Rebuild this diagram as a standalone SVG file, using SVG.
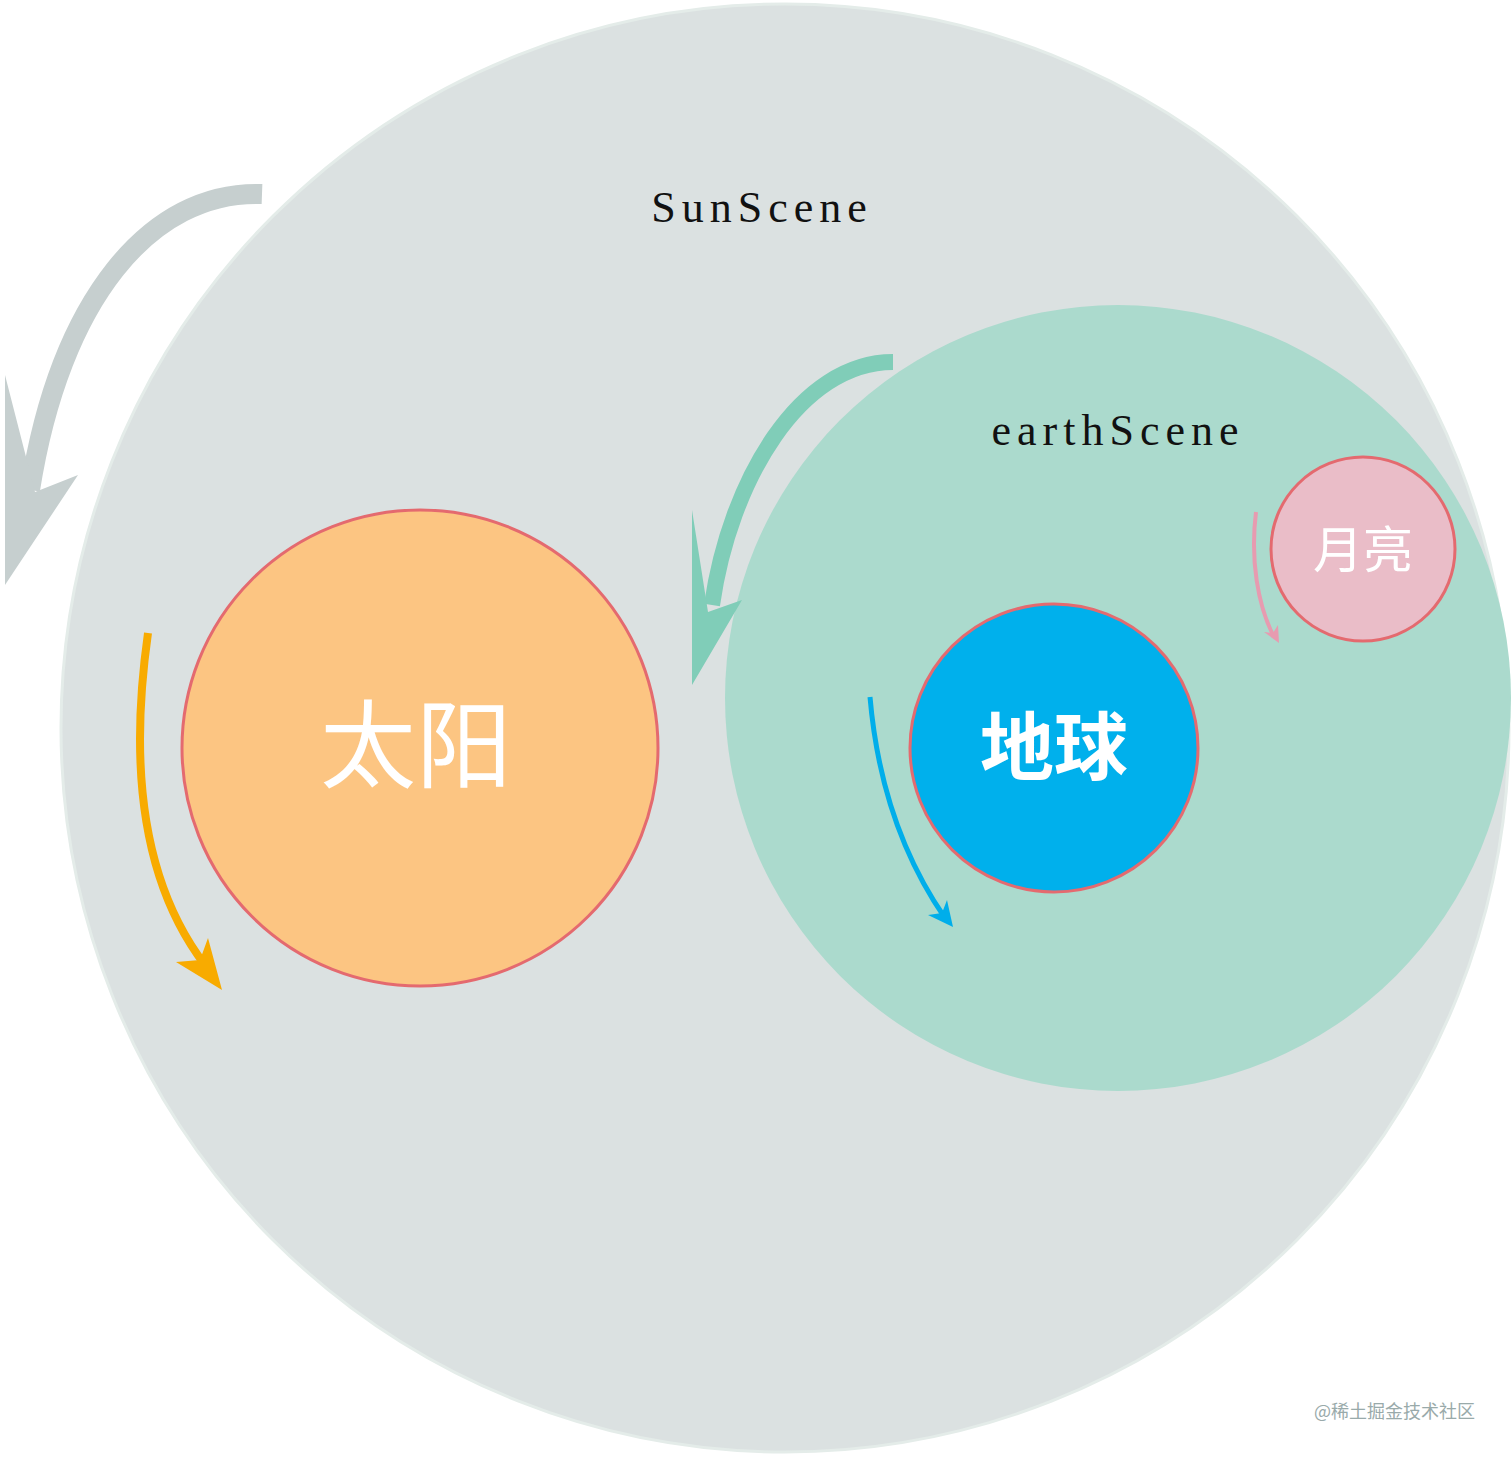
<svg xmlns="http://www.w3.org/2000/svg" width="1512" height="1457" viewBox="0 0 1512 1457">
<style>
.lbl{font-family:"Liberation Serif","Noto Sans CJK SC",serif;font-size:44px;letter-spacing:6px;fill:#111;text-anchor:middle}
.cn{font-family:"Noto Sans CJK SC",sans-serif;fill:#fff;text-anchor:middle}
.arc{fill:none;stroke-linecap:butt}
</style>
<rect width="1512" height="1457" fill="#fff"/>
<g id="sunScene">
<circle cx="785" cy="728" r="724" fill="#dbe1e1" stroke="#e4ece9" stroke-width="3"/>
<text class="lbl" x="762" y="222">SunScene</text>
</g>
<g id="earthScene">
<circle cx="1118" cy="698" r="393" fill="#abdacd"/>
<text class="lbl" x="1118" y="445">earthScene</text>
</g>
<g id="sun">
<circle cx="420" cy="748" r="238" fill="#fcc582" stroke="#e46a6f" stroke-width="3"/>
<text class="cn" x="416" y="780" font-size="96">太阳</text>
</g>
<g id="earth">
<circle cx="1054" cy="748" r="144" fill="#00b0ec" stroke="#e46a6f" stroke-width="3"/>
<text class="cn" x="1054" y="774" font-size="74" font-weight="bold">地球</text>
</g>
<g id="moon">
<circle cx="1363" cy="549" r="92" fill="#eabdc8" stroke="#e46a6f" stroke-width="3"/>
<text class="cn" x="1363" y="568" font-size="50">月亮</text>
</g>
<g id="connectors">
<path class="arc" d="M262,194 C150,190 60,300 30,490" stroke="#c6cfcf" stroke-width="20"/>
<polygon points="5,375 35,492 78,475 5,585" fill="#c6cfcf"/>
<path class="arc" d="M893,362 C800,362 730,480 712,605" stroke="#80cdb8" stroke-width="16"/>
<polygon points="692,510 708,612 742,600 692,685" fill="#80cdb8"/>
<path class="arc" d="M148,633 C130,760 140,880 205,965" stroke="#f8ab00" stroke-width="8"/>
<polygon points="176,962 222,990 208,938 200,960" fill="#f8ab00"/>
<path class="arc" d="M870,697 C878,790 905,860 945,918" stroke="#00aeea" stroke-width="5"/>
<polygon points="928,915 953,927 947,900 942,913" fill="#00aeea"/>
<path class="arc" d="M1256,512 C1250,560 1258,605 1273,635" stroke="#e79bb0" stroke-width="4"/>
<polygon points="1264,632 1279,643 1278,625 1273,633" fill="#e79bb0"/>
</g>
<text x="1475" y="1418" font-family="Noto Sans CJK SC,sans-serif" font-size="18" fill="#9aa" text-anchor="end">@稀土掘金技术社区</text>
</svg>
